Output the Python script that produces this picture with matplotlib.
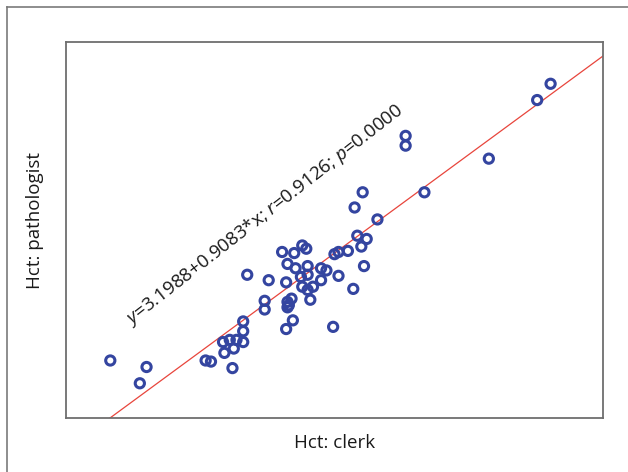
import numpy as np
import matplotlib.pyplot as plt
from matplotlib.lines import Line2D

plt.rcParams['font.family'] = ['Open Sans', 'DejaVu Sans']
plt.rcParams['mathtext.fontset'] = 'custom'
plt.rcParams['mathtext.rm'] = 'Open Sans'
plt.rcParams['mathtext.it'] = 'Open Sans:italic'

# Hct readings (clerk vs pathologist)
hct_clerk = [18.3, 21.0, 20.5, 25.4, 25.8, 27.4, 26.8, 26.7, 27.2, 27.5,
             27.7, 28.2, 28.2, 28.2, 28.5, 30.1, 29.8, 29.8, 31.4, 31.1,
             32.0, 32.6, 32.9, 31.5, 32.1, 33.0, 32.5, 33.0, 32.6, 33.0,
             33.4, 33.2, 31.5, 31.8, 31.6, 31.5, 31.9, 31.4, 34.9, 34.0,
             34.4, 34.0, 35.3, 36.4, 35.0, 35.3, 36.0, 36.7, 37.4, 37.0,
             37.2, 36.5, 37.1, 38.2, 40.3, 40.3, 41.7, 46.5, 50.1, 51.1]
hct_pathologist = [25.1, 24.5, 23.0, 25.1, 25.0, 24.4, 25.8, 26.8, 27.0, 26.2,
                   27.0, 26.8, 27.8, 28.7, 33.0, 32.5, 30.6, 29.8, 32.3, 35.1,
                   35.0, 35.7, 35.4, 34.0, 33.6, 33.8, 32.8, 33.0, 31.9, 31.6,
                   31.9, 30.7, 30.5, 30.8, 30.2, 30.0, 28.8, 28.0, 28.2, 33.6,
                   33.4, 32.5, 32.9, 31.7, 34.9, 35.1, 35.2, 36.6, 36.3, 35.6,
                   33.8, 39.2, 40.6, 38.1, 45.8, 44.9, 40.6, 43.7, 49.1, 50.6]

intercept = 3.1988
slope = 0.9083
r_value = 0.9126
p_value = 0.0000

fig = plt.figure(figsize=(6.28, 4.72), dpi=100)
ax = fig.add_axes([0.1051, 0.1144, 0.855, 0.7966])

ax.scatter(hct_clerk, hct_pathologist, s=44, facecolors='none',
           edgecolors='#3445a0', linewidths=2.2, zorder=3)

xlim = (15, 55)
ylim = (19.8, 54.45)
xs = np.array(xlim)
ax.plot(xs, intercept + slope * xs, color='#e8453c', linewidth=0.9, zorder=2)
ax.set_xlim(xlim)
ax.set_ylim(ylim)

ax.set_xticks([])
ax.set_yticks([])
for sp in ax.spines.values():
    sp.set_color('#6e6e6e')
    sp.set_linewidth(1.3)

label = (r'$y$=%.4f+%.4f*x; $r$=%.4f; $p$=%.4f'
         % (intercept, slope, r_value, p_value))
ax.text(0.371, 0.54, label, transform=ax.transAxes, rotation=38,
        rotation_mode='anchor', ha='center', va='center',
        fontsize=13.5, color='#1a1a1a')

# axis titles
fig.text(0.532, 0.0614, 'Hct: clerk', ha='center', va='center',
         fontsize=13.5, color='#1a1a1a')
fig.text(0.0557, 0.532, 'Hct: pathologist', ha='center', va='center',
         rotation=90, fontsize=13.5, color='#1a1a1a')

# outer frame (top and left edges only are visible)
fig.add_artist(Line2D([7 / 628, 1], [1 - 7 / 472, 1 - 7 / 472],
                      transform=fig.transFigure, color='#7a7a7a', linewidth=1.2))
fig.add_artist(Line2D([7 / 628, 7 / 628], [0, 1 - 7 / 472],
                      transform=fig.transFigure, color='#7a7a7a', linewidth=1.2))

fig.savefig('out.png', dpi=100)
